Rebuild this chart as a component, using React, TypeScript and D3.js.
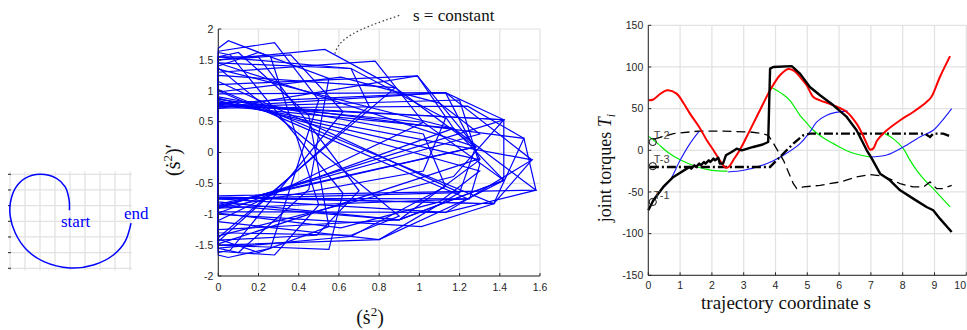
import React from "react";
import * as d3 from "d3";

type P = [number, number];

// ---------- left panel: path sketch ----------
const gridCols = [0, 1, 2, 3, 4, 5, 6, 7, 8];
const gridRows = [0, 1, 2, 3, 4, 5, 6];
const spiral: P[] = [
  [3.96, 2.3], [3.94, 1.64], [3.68, 0.8], [3.1, 0.26], [2.0, 0.0], [1.0, 0.26],
  [0.35, 0.9], [0.02, 1.85], [0.02, 2.7], [0.35, 3.75], [1.11, 4.82], [2.22, 5.56],
  [4.0, 5.98], [5.56, 5.79], [6.89, 5.15], [7.67, 4.3], [8.07, 3.12],
];

// ---------- middle panel: admissible polygons, one per s ----------
const midXTicks = [0, 0.2, 0.4, 0.6, 0.8, 1, 1.2, 1.4, 1.6];
const midYTicks = [-2, -1.5, -1, -0.5, 0, 0.5, 1, 1.5, 2];
const midPolys: P[][] = [
  // pointing right
  [[0, 0.72], [1.24, 0.75], [1.52, 0.23], [1.58, -0.61], [0, -0.7]],
  [[0, 0.74], [1.13, 0.97], [1.56, -0.12], [1.37, -0.83], [0, -0.72]],
  [[0, 0.78], [1.42, 0.53], [1.42, -0.45], [1.24, -0.75], [0, -0.74]],
  [[0, 0.76], [1.17, 0.39], [1.58, -0.61], [1.13, -0.97], [0, -0.75]],
  [[0, 0.8], [1.02, 0.49], [1.42, -0.45], [0.9, -1.09], [0, -0.8]],
  [[0, 0.86], [1.52, 0.23], [1.37, -0.83], [0, -0.73]],
  [[0, 0.74], [1.2, 0.85], [1.3, -0.2], [1.25, -0.75], [0, -0.9]],
  // leaning up
  [[0, 0.71], [0.99, 1.24], [1.28, 0.09], [0, -0.86]],
  [[0, 0.95], [1.13, 0.97], [1.42, 0.53], [0, -0.9]],
  [[0, 1.1], [0.99, 1.24], [1.17, 0.39], [0, -0.98]],
  [[0, 1.25], [0.88, 1.05], [1.28, 0.09], [0, -0.84]],
  [[0, 1.3], [0.78, 1.48], [1.02, 0.49], [0, -1.1]],
  [[0, 1.5], [0.53, 1.67], [0.88, 1.05], [0, -1.38]],
  [[0, 1.45], [0.66, 1.36], [0.75, 0.75], [0, -1.44]],
  [[0, 1.5], [0.36, 1.58], [0.62, 0.66], [0.06, -1.58], [0, -1.62]],
  [[0, 1.64], [0.28, 1.78], [0.5, 0.85], [0.26, -1.55], [0.05, -1.7], [0, -1.66]],
  [[0, 0.98], [0.61, 1.22], [1.1, 0.8], [1.3, 0.3], [0, -0.88]],
  [[0, 1.4], [0.2, 1.62], [0.55, 1.2], [0.45, -0.6], [0.1, -1.62], [0, -1.55]],
  // leaning down
  [[0, 1.62], [0.06, 1.58], [0.62, -0.66], [0.55, -1.57], [0, -1.5]],
  [[0, 1.69], [0.05, 1.81], [0.26, 1.55], [0.5, -0.85], [0.28, -1.66], [0, -1.6]],
  [[0, 1.02], [1.37, -0.83], [1.01, -1.2], [0, -1.0]],
  [[0, 0.82], [1.56, -0.12], [1.13, -0.97], [0, -0.96]],
  [[0, 1.15], [1.2, -0.65], [0.8, -1.41], [0, -1.12]],
  [[0, 1.37], [0.9, -1.03], [0.66, -1.34], [0, -1.3]],
  [[0, 1.55], [0.2, 1.55], [0.7, -0.62], [0.49, -1.34], [0, -1.42]],
  [[0, 0.84], [1.3, -0.12], [0.9, -1.09], [0, -1.25]],
  [[0, 1.0], [1.24, -0.75], [0.8, -1.41], [0, -1.5]],
  [[0, 0.88], [1.3, -0.3], [1.1, -0.8], [0.61, -1.22], [0, -0.98]],
  [[0, 1.55], [0.1, 1.62], [0.45, 0.6], [0.55, -1.2], [0.2, -1.62], [0, -1.4]],
  // wide
  [[0, 1.45], [1.28, 0.09], [1.2, -0.65], [0, -0.75]],
  [[0, 1.35], [1.17, 0.39], [1.42, -0.45], [0.9, -1.09], [0, -0.85]],
  [[0, 0.76], [1.42, 0.53], [1.17, -0.39], [0, -1.35]],
  [[0, 0.8], [1.13, 0.97], [1.3, -0.1], [0, -1.48]],
  [[0, 1.55], [0.66, 1.36], [1.13, 0.55], [1.02, -0.3], [0, -0.9]],
  [[0, 0.9], [1.02, 0.3], [1.13, -0.55], [0.66, -1.36], [0, -1.55]],
];

// ---------- right panel: joint torques ----------
const rightXTicks = [0, 1, 2, 3, 4, 5, 6, 7, 8, 9, 10];
const rightYTicks = [-150, -100, -50, 0, 50, 100, 150];
const redT: P[] = [
  [0, 60], [0.16, 61], [0.35, 67], [0.6, 72], [0.89, 68], [1.1, 57], [1.31, 44],
  [1.6, 28], [1.84, 12], [2.05, 0], [2.25, -12], [2.44, -21], [2.55, -19], [2.67, -12],
  [2.9, 2], [3.09, 16], [3.3, 32], [3.51, 48], [3.83, 72], [4.14, 90], [4.4, 97.5],
  [4.6, 95], [4.77, 88], [4.98, 78], [5.19, 64], [5.4, 60], [5.82, 54], [6.24, 46],
  [6.55, 32], [6.75, 18], [6.87, 8], [6.97, 1], [7.07, 2], [7.2, 12], [7.44, 22],
  [7.92, 36], [8.33, 46], [8.75, 58], [8.9, 64], [9.17, 88], [9.49, 113],
];
const blackT: P[] = [
  [0, -72], [0.16, -60], [0.47, -44], [0.79, -32], [1.21, -22], [1.3, -20], [1.35, -22],
  [1.45, -18], [1.5, -20], [1.6, -16], [1.65, -18], [1.75, -14], [1.8, -16], [1.9, -12],
  [1.95, -14], [2.05, -10], [2.1, -12], [2.2, -9], [2.25, -16], [2.35, -16], [2.44, -6],
  [2.62, -2], [2.78, 2], [2.94, 0], [3.3, 4], [3.6, 7], [3.77, 10], [3.83, 98],
  [3.93, 100], [4.51, 101], [4.77, 92], [5.08, 76], [5.4, 66], [5.82, 54], [6.24, 40],
  [6.55, 24], [6.87, 0], [7.03, -10], [7.29, -28], [7.6, -36], [7.92, -48], [8.33, -58],
  [8.75, -68], [8.96, -72], [9.17, -82], [9.54, -98],
];
const greenA: P[] = [[0, 17], [0.3, 8], [0.6, -2], [1.03, -12], [1.55, -20], [2.0, -24], [2.49, -25]];
const greenB: P[] = [
  [3.85, 76], [4.2, 68], [4.45, 60], [4.77, 42], [5.0, 32], [5.19, 24], [5.5, 15],
  [5.82, 8], [6.34, -2], [6.97, -8],
];
const greenC: P[] = [
  [7.44, 20], [7.7, 14], [8.02, 2], [8.2, -10], [8.44, -24], [8.7, -36], [8.96, -46],
  [9.2, -56], [9.49, -68],
];
const blueA: P[] = [[0.14, -61], [0.4, -48], [0.68, -36], [1.0, -12], [1.31, 8], [1.6, 23]];
const blueB: P[] = [
  [2.5, -26], [3.0, -24], [3.5, -19], [3.9, -13], [4.25, -6], [4.77, 8], [5.08, 22],
  [5.3, 34], [5.61, 42], [5.9, 45.5], [6.27, 47],
];
const blueC: P[] = [[6.97, -8], [7.5, -5.6], [8.02, 4], [8.54, 16], [8.96, 24], [9.25, 36], [9.54, 50]];
const dashedT: P[] = [
  [0.16, 13], [0.79, 20], [1.57, 23], [2.36, 23], [3.2, 22], [3.6, 20], [3.77, 18],
  [3.88, 12], [4.25, -12], [4.56, -40], [4.67, -46], [4.88, -44], [5.4, -42], [6.03, -38],
  [6.55, -32], [6.97, -29], [7.39, -31], [7.92, -40], [8.33, -44], [8.65, -44], [8.86, -38],
  [9.07, -46], [9.28, -46], [9.54, -42],
];
const dashDotT: P[] = [
  [0.05, -20], [3.83, -20], [4.14, -8], [4.56, 8], [4.87, 18], [5.1, 20], [8.7, 20],
  [8.86, 16], [8.96, 20], [9.28, 20], [9.54, 16],
];
const markers = [
  { s: 0.14, t: 10, label: "T-2" },
  { s: 0.14, t: -19, label: "T-3" },
  { s: 0.14, t: -62, label: "T-1" },
];

const serif = "'Liberation Serif', 'DejaVu Serif', serif";
const sans = "'Liberation Sans', Arial, sans-serif";
const gridColor = "#e2e2e2";
const axisColor = "#262626";

export default function App() {
  // left panel scales
  const lx = d3.scaleLinear().domain([0, 8]).range([10, 130]);
  const ly = d3.scaleLinear().domain([0, 6]).range([174.3, 268.3]);
  const spiralLine = d3
    .line<P>()
    .x((d) => lx(d[0]))
    .y((d) => ly(d[1]))
    .curve(d3.curveCatmullRom.alpha(0.5));

  // middle panel scales
  const mx = d3.scaleLinear().domain([0, 1.6]).range([218.3, 540]);
  const my = d3.scaleLinear().domain([-2, 2]).range([276, 29]);
  const polyLine = d3
    .line<P>()
    .x((d) => mx(d[0]))
    .y((d) => my(d[1]))
    .curve(d3.curveLinearClosed);

  // right panel scales
  const rx = d3.scaleLinear().domain([0, 10]).range([648.3, 966.3]);
  const ry = d3.scaleLinear().domain([-150, 150]).range([275.3, 25.3]);
  const smooth = d3
    .line<P>()
    .x((d) => rx(d[0]))
    .y((d) => ry(d[1]))
    .curve(d3.curveCatmullRom.alpha(0.5));
  const straight = d3
    .line<P>()
    .x((d) => rx(d[0]))
    .y((d) => ry(d[1]));

  const fmt = (v: number) => String(v);

  return (
    <svg
      width={967}
      height={330}
      style={{ position: "absolute", left: 0, top: 0, background: "#fff" }}
    >
      {/* ---------- left panel ---------- */}
      <g>
        {gridCols.map((c) => (
          <line key={"lc" + c} x1={lx(c)} x2={lx(c)} y1={171.5} y2={270.5} stroke={gridColor} strokeWidth={1.3} />
        ))}
        {gridRows.map((r) => (
          <line key={"lr" + r} x1={8} x2={132} y1={ly(r)} y2={ly(r)} stroke={gridColor} strokeWidth={1.3} />
        ))}
        {gridRows.map((r) => (
          <line key={"lt" + r} x1={8} x2={11} y1={ly(r)} y2={ly(r)} stroke={axisColor} strokeWidth={1} />
        ))}
        <path d={spiralLine(spiral) || ""} fill="none" stroke="#0000ff" strokeWidth={1.5} />
        <text x={61} y={227} fontFamily={serif} fontSize={17} fill="#0000ff">start</text>
        <text x={124} y={219} fontFamily={serif} fontSize={17} fill="#0000ff">end</text>
      </g>

      {/* ---------- middle panel ---------- */}
      <g>
        {midXTicks.map((t) => (
          <line key={"mgx" + t} x1={mx(t)} x2={mx(t)} y1={my(2)} y2={my(-2)} stroke={gridColor} strokeWidth={1.2} />
        ))}
        {midYTicks.map((t) => (
          <line key={"mgy" + t} x1={mx(0)} x2={mx(1.6)} y1={my(t)} y2={my(t)} stroke={gridColor} strokeWidth={1.2} />
        ))}
        {midPolys.map((p, i) => (
          <path key={"poly" + i} d={polyLine(p) || ""} fill="none" stroke="#0000ff" strokeWidth={1.2} />
        ))}
        <line x1={mx(0)} x2={mx(0)} y1={my(2)} y2={my(-2)} stroke={axisColor} strokeWidth={1} />
        <line x1={mx(0)} x2={mx(1.6)} y1={my(-2)} y2={my(-2)} stroke={axisColor} strokeWidth={1} />
        {midXTicks.map((t) => (
          <g key={"mtx" + t}>
            <line x1={mx(t)} x2={mx(t)} y1={my(-2)} y2={my(-2) - 3} stroke={axisColor} />
            <text x={mx(t)} y={my(-2) + 15} textAnchor="middle" fontFamily={sans} fontSize={10.5} fill={axisColor}>
              {fmt(t)}
            </text>
          </g>
        ))}
        {midYTicks.map((t) => (
          <g key={"mty" + t}>
            <line x1={mx(0)} x2={mx(0) + 3} y1={my(t)} y2={my(t)} stroke={axisColor} />
            <text x={mx(0) - 5} y={my(t) + 3.8} textAnchor="end" fontFamily={sans} fontSize={10.5} fill={axisColor}>
              {fmt(t)}
            </text>
          </g>
        ))}
        <text x={370} y={324} textAnchor="middle" fontFamily={serif} fontSize={20} fill="#111">
          (ṡ<tspan fontSize={13} dy={-8}>2</tspan><tspan dy={8}>)</tspan>
        </text>
        <text
          transform={`translate(180,160) rotate(-90)`}
          textAnchor="middle"
          fontFamily={serif}
          fontSize={20}
          fill="#111"
        >
          (ṡ<tspan fontSize={13} dy={-8}>2</tspan><tspan dy={8}>)′</tspan>
        </text>
        <path
          d={`M${mx(0.58)},${my(1.6)} C${mx(0.6)},${my(1.85)} ${mx(0.68)},${my(1.98)} ${mx(0.9)},${my(2.22)}`}
          fill="none"
          stroke="#444"
          strokeWidth={1.3}
          strokeDasharray="1.5,2.5"
        />
        <text x={413} y={21} fontFamily={serif} fontSize={17} fill="#111">s = constant</text>
      </g>

      {/* ---------- right panel ---------- */}
      <g>
        {rightXTicks.map((t) => (
          <line key={"rgx" + t} x1={rx(t)} x2={rx(t)} y1={ry(150)} y2={ry(-150)} stroke={gridColor} strokeWidth={1.2} />
        ))}
        {rightYTicks.map((t) => (
          <line key={"rgy" + t} x1={rx(0)} x2={rx(10)} y1={ry(t)} y2={ry(t)} stroke={gridColor} strokeWidth={1.2} />
        ))}
        <path d={smooth(greenA) || ""} fill="none" stroke="#00ee00" strokeWidth={1.2} />
        <path d={smooth(greenB) || ""} fill="none" stroke="#00ee00" strokeWidth={1.2} />
        <path d={smooth(greenC) || ""} fill="none" stroke="#00ee00" strokeWidth={1.2} />
        <path d={smooth(blueA) || ""} fill="none" stroke="#1a1aff" strokeWidth={1.1} />
        <path d={smooth(blueB) || ""} fill="none" stroke="#1a1aff" strokeWidth={1.1} />
        <path d={smooth(blueC) || ""} fill="none" stroke="#1a1aff" strokeWidth={1.1} />
        <path d={straight(dashedT) || ""} fill="none" stroke="#000" strokeWidth={1.3} strokeDasharray="9,5" />
        <path d={straight(dashDotT) || ""} fill="none" stroke="#000" strokeWidth={2.4} strokeDasharray="9,3,2,3" />
        <path d={smooth(redT) || ""} fill="none" stroke="#ff0000" strokeWidth={2} />
        <path d={straight(blackT) || ""} fill="none" stroke="#000" strokeWidth={2.4} strokeLinejoin="round" />
        {markers.map((m) => (
          <g key={m.label}>
            <circle cx={rx(m.s)} cy={ry(m.t)} r={3.6} fill="none" stroke="#111" strokeWidth={1} />
            <text x={rx(m.s) + 1} y={ry(m.t) - 3} fontFamily={sans} fontSize={11} fill="#444">
              {m.label}
            </text>
          </g>
        ))}
        <line x1={rx(0)} x2={rx(0)} y1={ry(150)} y2={ry(-150)} stroke={axisColor} strokeWidth={1} />
        <line x1={rx(0)} x2={rx(10)} y1={ry(-150)} y2={ry(-150)} stroke={axisColor} strokeWidth={1} />
        {rightXTicks.map((t) => (
          <g key={"rtx" + t}>
            <line x1={rx(t)} x2={rx(t)} y1={ry(-150)} y2={ry(-150) - 3} stroke={axisColor} />
            <text
              x={t === 10 ? 966 : rx(t)}
              y={ry(-150) + 14}
              textAnchor={t === 10 ? "end" : "middle"}
              fontFamily={sans}
              fontSize={10.5}
              fill={axisColor}
            >
              {fmt(t)}
            </text>
          </g>
        ))}
        {rightYTicks.map((t) => (
          <g key={"rty" + t}>
            <line x1={rx(0)} x2={rx(0) + 3} y1={ry(t)} y2={ry(t)} stroke={axisColor} />
            <text x={rx(0) - 5} y={ry(t) + 3.8} textAnchor="end" fontFamily={sans} fontSize={10.5} fill={axisColor}>
              {fmt(t)}
            </text>
          </g>
        ))}
        <text x={786} y={309} textAnchor="middle" fontFamily={serif} fontSize={19} fill="#111">
          trajectory coordinate s
        </text>
        <text
          transform={`translate(611,168) rotate(-90)`}
          textAnchor="middle"
          fontFamily={serif}
          fontSize={18}
          fill="#111"
        >
          joint torques <tspan fontStyle="italic">T</tspan>
          <tspan fontStyle="italic" fontSize={12} dy={4}>i</tspan>
        </text>
      </g>
    </svg>
  );
}
